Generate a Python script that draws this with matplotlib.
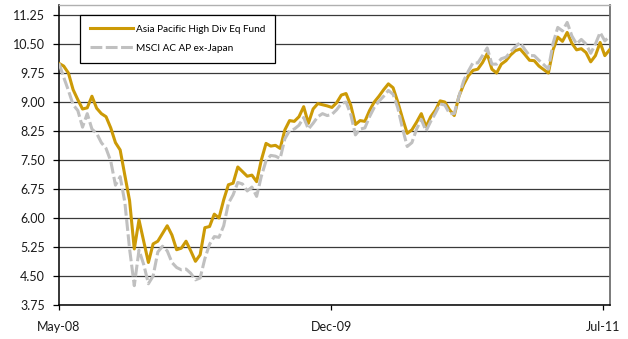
import matplotlib
matplotlib.use("Agg")
import matplotlib.pyplot as plt
import pandas as pd

plt.rcParams['font.family'] = ['Lato', 'DejaVu Sans']
plt.rcParams['lines.scale_dashes'] = False

# ---- data (one every 10 days from 1 May 2008) ----
start_date = "2008-05-01"
step = "10D"

fund = [10.00, 9.93, 9.75, 9.32, 9.06, 8.82, 8.85, 9.15, 8.84, 8.70,
        8.62, 8.33, 7.95, 7.76, 7.10, 6.45, 5.20, 5.95, 5.40, 4.85,
        5.33, 5.40, 5.60, 5.80, 5.56, 5.18, 5.22, 5.40, 5.15, 4.88,
        5.05, 5.75, 5.78, 6.10, 6.00, 6.47, 6.86, 6.90, 7.32, 7.20,
        7.08, 7.11, 6.94, 7.50, 7.93, 7.86, 7.88, 7.80, 8.28, 8.52,
        8.50, 8.62, 8.88, 8.45, 8.82, 8.96, 8.93, 8.90, 8.86, 8.98,
        9.18, 9.22, 8.92, 8.42, 8.52, 8.50, 8.78, 9.00, 9.15, 9.32,
        9.47, 9.37, 9.00, 8.58, 8.19, 8.28, 8.48, 8.70, 8.36, 8.62,
        8.79, 9.03, 9.00, 8.80, 8.65, 9.15, 9.45, 9.68, 9.82, 9.85,
        10.02, 10.25, 9.85, 9.75, 9.98, 10.07, 10.22, 10.33, 10.37, 10.23,
        10.08, 10.07, 9.93, 9.84, 9.75, 10.35, 10.68, 10.57, 10.80, 10.52,
        10.35, 10.38, 10.28, 10.04, 10.20, 10.54, 10.20, 10.35]

msci = [10.00, 9.64, 9.30, 8.93, 8.78, 8.35, 8.70, 8.30, 8.19, 7.95,
        7.80, 7.47, 6.85, 7.07, 6.40, 5.20, 4.25, 5.17, 4.80, 4.30,
        4.50, 5.12, 5.27, 5.15, 4.85, 4.72, 4.66, 4.68, 4.57, 4.40,
        4.45, 4.95, 5.32, 5.52, 5.50, 5.80, 6.38, 6.60, 6.92, 6.88,
        6.70, 6.80, 6.56, 7.08, 7.48, 7.62, 7.60, 7.54, 8.05, 8.26,
        8.30, 8.40, 8.60, 8.30, 8.45, 8.62, 8.70, 8.65, 8.68, 8.80,
        8.96, 9.00, 8.68, 8.15, 8.30, 8.33, 8.62, 8.86, 9.02, 9.15,
        9.30, 9.20, 8.85, 8.32, 7.85, 7.95, 8.30, 8.55, 8.25, 8.50,
        8.71, 8.95, 8.92, 8.70, 8.70, 9.15, 9.55, 9.80, 10.02, 10.01,
        10.20, 10.40, 9.98, 9.98, 10.12, 10.16, 10.30, 10.43, 10.54, 10.36,
        10.20, 10.20, 10.08, 9.97, 9.85, 10.52, 10.93, 10.84, 11.06, 10.71,
        10.50, 10.62, 10.50, 10.26, 10.50, 10.80, 10.58, 10.70]

series_names = ["Asia Pacific High Div Eq Fund", "MSCI AC AP ex-Japan"]
x_tick_dates = ["2008-05-01", "2009-12-01", "2011-07-01"]
x_tick_labels = ["May-08", "Dec-09", "Jul-11"]
y_ticks = [3.75, 4.50, 5.25, 6.00, 6.75, 7.50, 8.25, 9.00, 9.75, 10.50, 11.25]

dates = pd.date_range(start_date, periods=len(fund), freq=step)

# ---- figure ----
fig = plt.figure(figsize=(6.28, 3.39), dpi=100)
ax = fig.add_axes([59/628, 34/339, 551/628, 300/339])

gold = "#CC9A06"
grey = "#C0C0C0"

ax.plot(dates, fund, color=gold, lw=2.2, solid_joinstyle='round', label=series_names[0], zorder=3)
ax.plot(dates, msci, color=grey, lw=2.2, dashes=(8.5, 2.5), label=series_names[1], zorder=4)

ax.set_ylim(3.75, 11.51)
ax.set_xlim(pd.Timestamp("2008-05-01"), pd.Timestamp("2011-07-16"))

ax.set_yticks(y_ticks)
ax.set_yticklabels([f"{v:.2f}" for v in y_ticks])
ax.set_xticks([pd.Timestamp(d) for d in x_tick_dates])
ax.set_xticklabels(x_tick_labels)

ax.yaxis.grid(True, color="#3a3a3a", lw=0.9, zorder=1)
ax.set_axisbelow(True)

ax.tick_params(axis='y', length=4, width=0.9, pad=6, labelsize=9, color='black', labelcolor='#1a1a1a')
ax.tick_params(axis='x', length=3.5, width=0.9, pad=8, labelsize=9, color='black', labelcolor='#1a1a1a')

for s in ['left', 'bottom']:
    ax.spines[s].set_color('black')
    ax.spines[s].set_linewidth(1.1)
ax.spines['top'].set_color('#B0B0B0')
ax.spines['top'].set_linewidth(1.0)
ax.spines['right'].set_color('#707070')
ax.spines['right'].set_linewidth(1.3)

leg = ax.legend(loc='upper left', bbox_to_anchor=(0.038, 0.967), fontsize=7.2,
                frameon=True, fancybox=False, shadow=False, framealpha=1,
                edgecolor='black', handlelength=4.3, handletextpad=0.3,
                borderpad=1.0, labelspacing=1.0, borderaxespad=0)
leg.get_frame().set_linewidth(0.9)
leg.set_zorder(10)

fig.savefig("out.png", dpi=100)
